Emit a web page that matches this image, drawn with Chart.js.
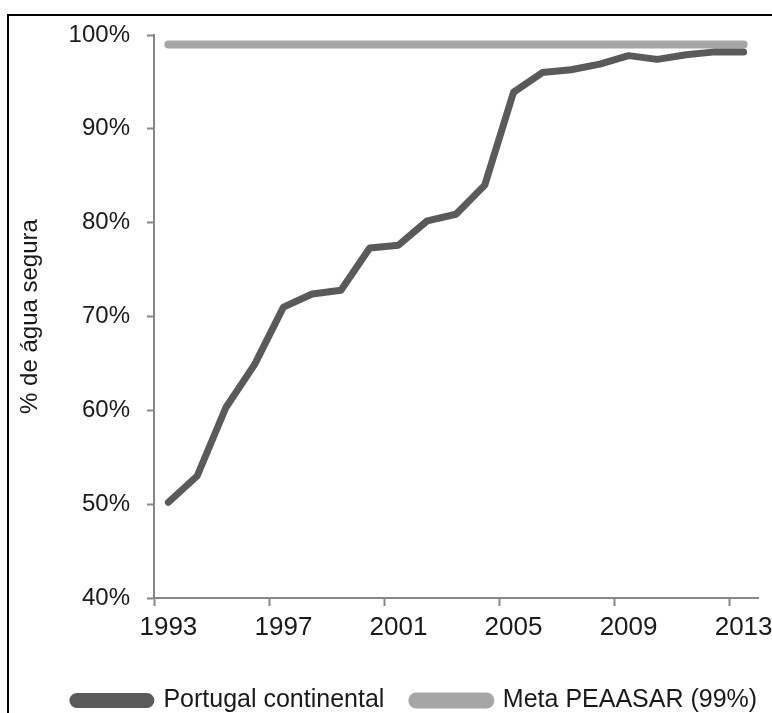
<!DOCTYPE html>
<html>
<head>
<meta charset="utf-8">
<script src="https://cdn.jsdelivr.net/npm/chart.js@4.4.0/dist/chart.umd.min.js"></script>
<style>
body{margin:0;background:#fff;overflow:hidden;}
#wrap{position:relative;width:772px;height:713px;overflow:hidden;}
#frame{position:absolute;left:7px;top:14px;width:800px;height:800px;border:2px solid #000;}
canvas{position:absolute;left:0;top:0;}
</style>
</head>
<body>
<div id="wrap"><div id="frame"></div><canvas id="myChart" width="772" height="713"></canvas></div>
<script>
'use strict'
let years=['1993','1994','1995','1996','1997','1998','1999','2000','2001','2002','2003',
'2004','2005','2006','2007','2008','2009','2010','2011','2012','2013'];
let portugal=[50.2,53.0,60.3,64.9,71.0,72.4,72.8,77.3,77.6,80.2,80.9,
84.0,93.9,96.0,96.3,96.9,97.8,97.4,97.9,98.2,98.2];
let meta=[99,99,99,99,99,99,99,99,99,99,99,99,99,99,99,99,99,99,99,99,99];
let yTicks=[40,50,60,70,80,90,100];

let axisGrey='#878787';
let textCol='#1a1a1a';

// small nudge so the legend sits where the original one does
let nudgeLegend={
    id:'nudgeLegend',
    afterLayout(chart){
        let lg=chart.legend;
        lg.left+=36; lg.right+=36;
        lg.top+=10; lg.bottom+=10;
    }
};

var ctx=document.getElementById('myChart').getContext('2d');
var myChart=new Chart(ctx,{
    type:'line',
    data:{
        labels:years,
        datasets:[{
            label:'Portugal continental',
            data:portugal,
            borderColor:'#5a5a5a',
            backgroundColor:'#5a5a5a',
            borderWidth:7,
            borderCapStyle:'round',
            borderJoinStyle:'round',
            pointRadius:0,
            tension:0
        },{
            label:'Meta PEAASAR (99%)',
            data:meta,
            borderColor:'#a6a6a6',
            backgroundColor:'#a6a6a6',
            borderWidth:8,
            borderCapStyle:'round',
            pointRadius:0,
            tension:0
        }]
    },
    options:{
        responsive:false,
        animation:false,
        layout:{padding:{top:35,right:14,left:0,bottom:0}},
        plugins:{
            tooltip:{enabled:false},
            legend:{
                position:'bottom',
                labels:{
                    boxWidth:78,
                    boxHeight:8,
                    useBorderRadius:true,
                    borderRadius:4,
                    padding:28,
                    color:textCol,
                    font:{family:'Liberation Sans',size:25}
                }
            }
        },
        scales:{
            x:{
                offset:true,
                grid:{
                    offset:true,
                    drawOnChartArea:false,
                    drawTicks:true,
                    tickLength:8,
                    tickWidth:2,
                    tickColor:(c)=>c.index%4===0?axisGrey:'rgba(0,0,0,0)'
                },
                border:{color:axisGrey,width:2},
                ticks:{
                    autoSkip:false,
                    maxRotation:0,
                    padding:6,
                    color:textCol,
                    font:{family:'Liberation Sans',size:26},
                    callback:function(v,i){return i%4===0?years[i]:'';}
                },
                afterFit:function(s){s.height=52;s.paddingRight=0;}
            },
            y:{
                min:yTicks[0],
                max:yTicks[yTicks.length-1],
                grid:{
                    drawOnChartArea:false,
                    drawTicks:true,
                    tickLength:7,
                    tickWidth:2,
                    tickColor:axisGrey
                },
                border:{color:axisGrey,width:2},
                ticks:{
                    stepSize:10,
                    padding:17,
                    color:textCol,
                    font:{family:'Liberation Sans',size:24},
                    callback:function(v){return v+'%';}
                },
                title:{
                    display:true,
                    text:'% de água segura',
                    color:textCol,
                    padding:{top:16,bottom:0},
                    font:{family:'Liberation Sans',size:24}
                },
                afterFit:function(s){s.width=154;}
            }
        }
    },
    plugins:[nudgeLegend]
});
</script>
</body>
</html>
